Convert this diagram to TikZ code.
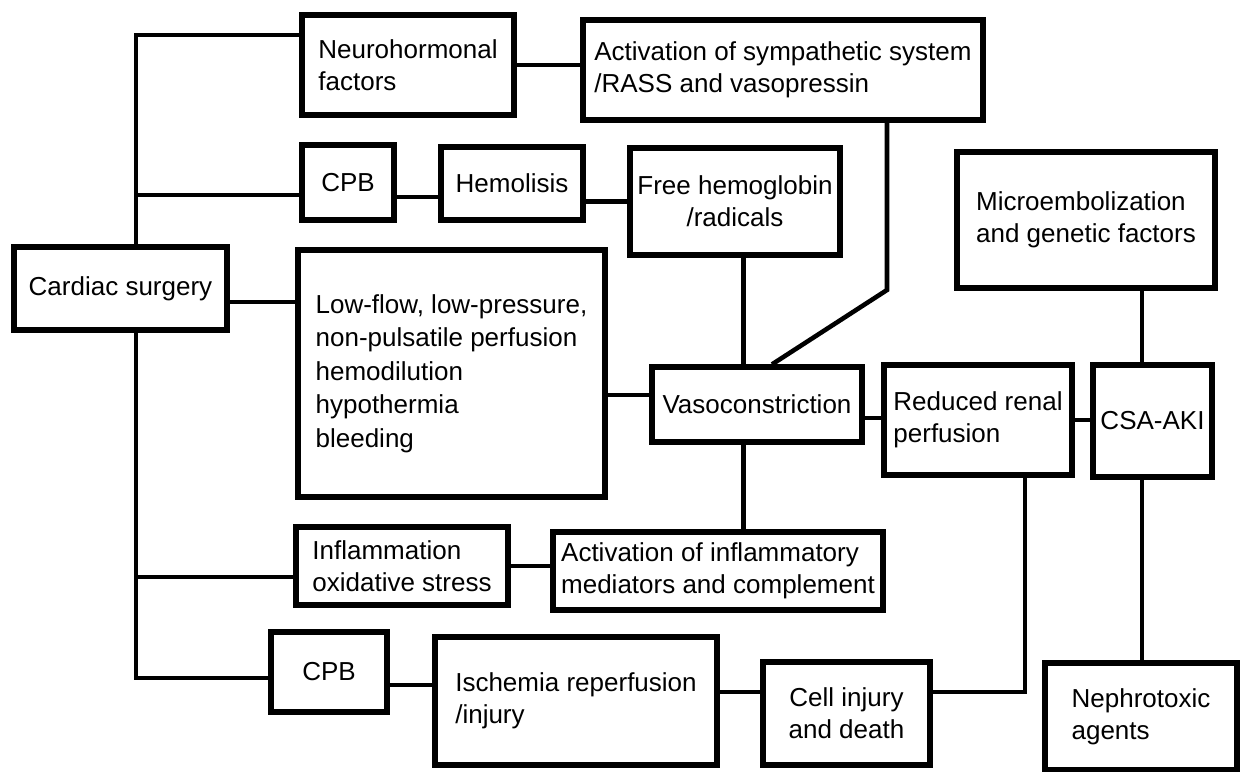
\documentclass[tikz,border=0pt]{standalone}
\usepackage{fontspec}
\setmainfont{Liberation Sans}
\usepackage{tikz}

\begin{document}
\begin{tikzpicture}[
  box/.style={draw, line width=3pt, align=left, inner sep=2pt,
    font=\fontsize{14.8}{18.2}\selectfont},
  cbox/.style={box, align=center},
  link/.style={line width=2.6pt}
]
  \useasboundingbox (0,0) rectangle (24.84,-15.44);
  % Top row: neurohormonal path
  \node[box, minimum width=4.24cm, minimum height=2.00cm] (neuro) at (8.16,-1.30) {Neurohormonal\\factors};
  \node[box, minimum width=8.00cm, minimum height=2.00cm] (symp) at (15.66,-1.40) {Activation of sympathetic system\\/RASS and vasopressin};
  % Second row: CPB and hemolysis path
  \node[cbox, minimum width=1.84cm, minimum height=1.50cm] (cpbA) at (6.96,-3.65) {CPB};
  \node[cbox, minimum width=2.84cm, minimum height=1.46cm] (hemol) at (10.24,-3.67) {Hemolisis};
  \node[cbox, minimum width=4.20cm, minimum height=2.14cm] (freehb) at (14.70,-4.03) {Free hemoglobin\\/radicals};
  \node[box, minimum width=5.16cm, minimum height=2.72cm] (micro) at (21.72,-4.40) {Microembolization\\and genetic factors};
  % Middle: surgery, perfusion, kidney
  \node[cbox, minimum width=4.26cm, minimum height=1.66cm] (cardiac) at (2.41,-5.77) {Cardiac surgery};
  \node[box, minimum width=6.14cm, minimum height=4.94cm, font=\fontsize{14.8}{19}\selectfont] (lowflow) at (9.03,-7.47) {Low-flow, low-pressure,\\non-pulsatile perfusion\\hemodilution\\hypothermia\\bleeding};
  \node[cbox, minimum width=4.20cm, minimum height=1.50cm] (vaso) at (15.14,-8.09) {Vasoconstriction};
  \node[box, minimum width=3.76cm, minimum height=2.20cm] (renal) at (19.56,-8.40) {Reduced renal\\perfusion};
  \node[cbox, minimum width=2.38cm, minimum height=2.24cm] (csa) at (23.05,-8.42) {CSA-AKI};
  % Lower rows: inflammation and ischemia
  \node[box, minimum width=4.24cm, minimum height=1.56cm] (inflam) at (8.04,-11.32) {Inflammation\\oxidative stress};
  \node[box, minimum width=6.60cm, minimum height=1.56cm] (mediat) at (14.36,-11.42) {Activation of inflammatory\\mediators and complement};
  \node[cbox, minimum width=2.32cm, minimum height=1.60cm] (cpbB) at (6.58,-13.44) {CPB};
  \node[box, minimum width=5.64cm, minimum height=2.56cm] (ischem) at (11.52,-14.02) {Ischemia reperfusion\\/injury};
  \node[cbox, minimum width=3.34cm, minimum height=2.06cm] (cellinj) at (16.93,-14.27) {Cell injury\\and death};
  \node[box, minimum width=3.84cm, minimum height=2.14cm] (nephro) at (22.82,-14.33) {Nephrotoxic\\agents};
  % Junction points
  \coordinate (tTop) at (2.72,-0.70);
  \coordinate (tBot) at (2.72,-13.56);
  \coordinate (jCpb) at (2.72,-3.90);
  \coordinate (jInf) at (2.72,-11.54);
  \coordinate (bend) at (17.74,-5.80);
  \coordinate (vx) at (14.87,0);
  \coordinate (kx) at (22.84,0);
  \coordinate (rc) at (20.50,-13.84);
  % Trunk from cardiac surgery
  \draw[link] (neuro.west |- tTop) -- (tTop) -- (tTop |- cardiac.north);
  \draw[link] (tTop |- cardiac.south) -- (tBot) -- (tBot -| cpbB.west);
  \draw[link] (jCpb) -- (jCpb -| cpbA.west);
  \draw[link] (jInf) -- (jInf -| inflam.west);
  \draw[link] (cardiac.east |- 0,-6.04) -- (lowflow.west |- 0,-6.04);
  % Horizontal links
  \draw[link] (neuro.east) -- (neuro.east -| symp.west);
  \draw[link] (cpbA.east |- 0,-3.94) -- (hemol.west |- 0,-3.94);
  \draw[link] (hemol.east |- freehb.west) -- (freehb.west);
  \draw[link] (lowflow.east |- 0,-7.90) -- (vaso.west |- 0,-7.90);
  \draw[link] (vaso.east |- 0,-8.36) -- (renal.west |- 0,-8.36);
  \draw[link] (renal.east) -- (renal.east -| csa.west);
  \draw[link] (inflam.east) -- (inflam.east -| mediat.west);
  \draw[link] (cpbB.east |- 0,-13.70) -- (ischem.west |- 0,-13.70);
  \draw[link] (ischem.east |- rc) -- (cellinj.west |- rc);
  % Vertical links
  \draw[link] (bend |- symp.south) -- (bend) -- (vaso.north -| 15.44,0);
  \draw[link] (vx |- freehb.south) -- (vx |- vaso.north);
  \draw[link] (vx |- vaso.south) -- (vx |- mediat.north);
  \draw[link] (kx |- micro.south) -- (kx |- csa.north);
  \draw[link] (kx |- csa.south) -- (kx |- nephro.north);
  \draw[link] (cellinj.east |- rc) -- (rc) -- (rc |- renal.south);
\end{tikzpicture}
\end{document}
